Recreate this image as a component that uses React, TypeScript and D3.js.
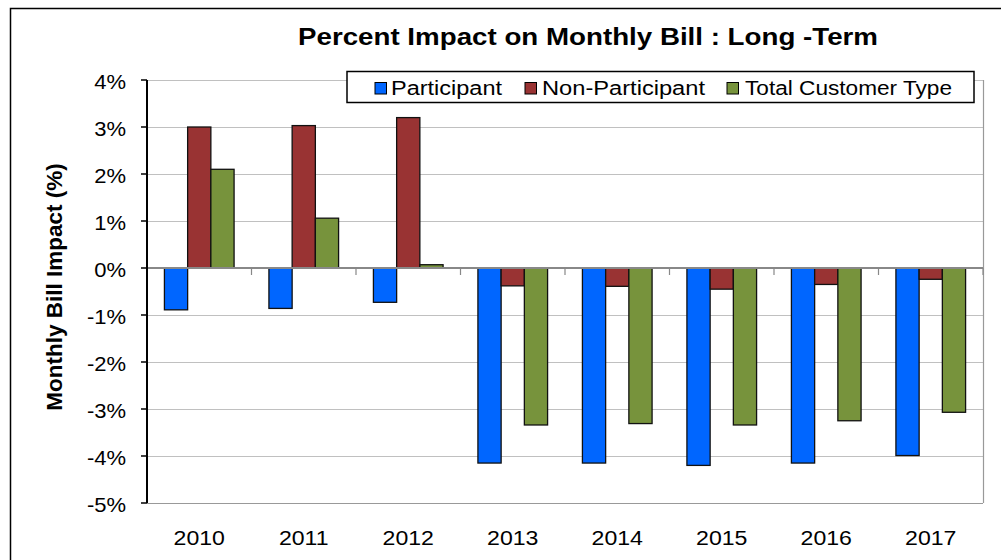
import React, { useEffect, useRef } from 'react';
import * as d3 from 'd3';

const years = ['2010', '2011', '2012', '2013', '2014', '2015', '2016', '2017'];
const seriesNames = ['Participant', 'Non-Participant', 'Total Customer Type'];
const participant = [-0.89, -0.86, -0.73, -4.15, -4.15, -4.2, -4.15, -3.99];
const nonParticipant = [3.0, 3.03, 3.2, -0.38, -0.39, -0.45, -0.35, -0.24];
const totalCustomer = [2.1, 1.06, 0.07, -3.34, -3.31, -3.34, -3.25, -3.07];
const yTicks = [4, 3, 2, 1, 0, -1, -2, -3, -4, -5];
const colors = ['#0066FF', '#993333', '#77933C'];

const App: React.FC = () => {
  const svgRef = useRef<SVGSVGElement>(null);

  useEffect(() => {
    const width = 1001;
    const height = 560;
    const svg = d3.select(svgRef.current).attr('width', width).attr('height', height);
    svg.selectAll('*').remove();

    const marginLeft = 147;
    const marginRight = 18;
    const marginTop = 80;
    const marginBottom = 57;
    const font = 'Liberation Sans, Arial, sans-serif';
    const stretch = 1.1; // text in the source looks a bit wide

    // Outer chart frame
    svg.append('rect')
      .attr('x', 10.5).attr('y', 8.5)
      .attr('width', 1000).attr('height', 560)
      .attr('fill', 'white').attr('stroke', '#000').attr('stroke-width', 1.5);

    const x0 = d3.scaleBand()
      .domain(years)
      .range([marginLeft, width - marginRight])
      .paddingInner(0)
      .paddingOuter(0);

    const x1 = d3.scaleBand()
      .domain(seriesNames)
      .range([0, x0.bandwidth()])
      .paddingOuter(0.75)
      .paddingInner(0);

    const y = d3.scaleLinear()
      .domain([-5, 4])
      .range([height - marginBottom, marginTop]);

    // Grid lines
    svg.append('g')
      .selectAll('line')
      .data(yTicks)
      .enter()
      .append('line')
      .attr('x1', marginLeft)
      .attr('x2', width - marginRight)
      .attr('y1', d => Math.round(y(d)) + 0.5)
      .attr('y2', d => Math.round(y(d)) + 0.5)
      .attr('stroke', '#c0c0c0')
      .attr('stroke-width', 1);

    // Plot area right/bottom border
    svg.append('line')
      .attr('x1', width - marginRight + 0.5).attr('x2', width - marginRight + 0.5)
      .attr('y1', y(4)).attr('y2', y(-5))
      .attr('stroke', '#999').attr('stroke-width', 1.2);
    svg.append('line')
      .attr('x1', marginLeft).attr('x2', width - marginRight)
      .attr('y1', Math.round(y(-5)) + 0.5).attr('y2', Math.round(y(-5)) + 0.5)
      .attr('stroke', '#999').attr('stroke-width', 1.2);

    // Bars
    const data = years.map((yr, i) => ({
      year: yr,
      values: [participant[i], nonParticipant[i], totalCustomer[i]],
    }));

    const groups = svg.append('g')
      .selectAll('g')
      .data(data)
      .enter()
      .append('g')
      .attr('transform', d => `translate(${x0(d.year)},0)`);

    groups.selectAll('rect')
      .data(d => d.values.map((v, j) => ({ name: seriesNames[j], value: v, idx: j })))
      .enter()
      .append('rect')
      .attr('x', d => x1(d.name) as number)
      .attr('width', x1.bandwidth())
      .attr('y', d => y(Math.max(0, d.value)))
      .attr('height', d => Math.abs(y(d.value) - y(0)))
      .attr('fill', d => colors[d.idx])
      .attr('stroke', '#111')
      .attr('stroke-width', 1.3);

    // X axis at zero
    svg.append('line')
      .attr('x1', marginLeft).attr('x2', width - marginRight)
      .attr('y1', y(0)).attr('y2', y(0))
      .attr('stroke', '#888').attr('stroke-width', 2);
    svg.append('g')
      .selectAll('line')
      .data(d3.range(years.length + 1))
      .enter()
      .append('line')
      .attr('x1', i => marginLeft + i * x0.bandwidth())
      .attr('x2', i => marginLeft + i * x0.bandwidth())
      .attr('y1', y(0))
      .attr('y2', y(0) + 7)
      .attr('stroke', '#888')
      .attr('stroke-width', 1.2);

    // Y axis
    svg.append('line')
      .attr('x1', marginLeft).attr('x2', marginLeft)
      .attr('y1', y(4)).attr('y2', y(-5))
      .attr('stroke', '#000').attr('stroke-width', 2);
    svg.append('g')
      .selectAll('line')
      .data(yTicks)
      .enter()
      .append('line')
      .attr('x1', marginLeft - 6)
      .attr('x2', marginLeft)
      .attr('y1', d => y(d))
      .attr('y2', d => y(d))
      .attr('stroke', '#000')
      .attr('stroke-width', 1.5);

    svg.append('g')
      .selectAll('text')
      .data(yTicks)
      .enter()
      .append('text')
      .attr('transform', d => `translate(126,${y(d) + 9.3}) scale(${stretch},1)`)
      .attr('text-anchor', 'end')
      .attr('font-family', font)
      .attr('font-size', 20)
      .attr('fill', '#000')
      .text(d => `${d}%`);

    // X labels
    svg.append('g')
      .selectAll('text')
      .data(years)
      .enter()
      .append('text')
      .attr('transform', d => `translate(${(x0(d) as number) + x0.bandwidth() / 2},545) scale(${stretch},1)`)
      .attr('text-anchor', 'middle')
      .attr('font-family', font)
      .attr('font-size', 21)
      .attr('fill', '#000')
      .text(d => d);

    // Title
    svg.append('text')
      .attr('x', 298)
      .attr('y', 44.5)
      .attr('font-family', font)
      .attr('font-size', 24.5)
      .attr('font-weight', 'bold')
      .attr('fill', '#000')
      .attr('textLength', 580)
      .attr('lengthAdjust', 'spacingAndGlyphs')
      .text('Percent Impact on Monthly Bill : Long -Term');

    // Y axis title
    svg.append('text')
      .attr('transform', `translate(61.5,287) rotate(-90)`)
      .attr('text-anchor', 'middle')
      .attr('font-family', font)
      .attr('font-size', 22.5)
      .attr('font-weight', 'bold')
      .attr('fill', '#000')
      .text('Monthly Bill Impact (%)');

    // Legend
    const legend = svg.append('g');
    legend.append('rect')
      .attr('x', 347).attr('y', 71.5)
      .attr('width', 627).attr('height', 31)
      .attr('fill', 'white').attr('stroke', '#000').attr('stroke-width', 1.5);
    const markerX = [375, 525, 727];
    const textX = [391, 542, 745];
    const textW = [111, 163, 207];
    seriesNames.forEach((name, i) => {
      legend.append('rect')
        .attr('x', markerX[i]).attr('y', 82.5)
        .attr('width', 11.5).attr('height', 11.5)
        .attr('fill', colors[i]).attr('stroke', '#000').attr('stroke-width', 1);
      legend.append('text')
        .attr('x', textX[i])
        .attr('y', 95)
        .attr('font-family', font)
        .attr('font-size', 19.5)
        .attr('fill', '#000')
        .attr('textLength', textW[i])
        .attr('lengthAdjust', 'spacingAndGlyphs')
        .text(name);
    });
  }, []);

  return (
    <div style={{ position: 'absolute', left: 0, top: 0 }}>
      <svg ref={svgRef} style={{ display: 'block' }}></svg>
    </div>
  );
};

export default App;
